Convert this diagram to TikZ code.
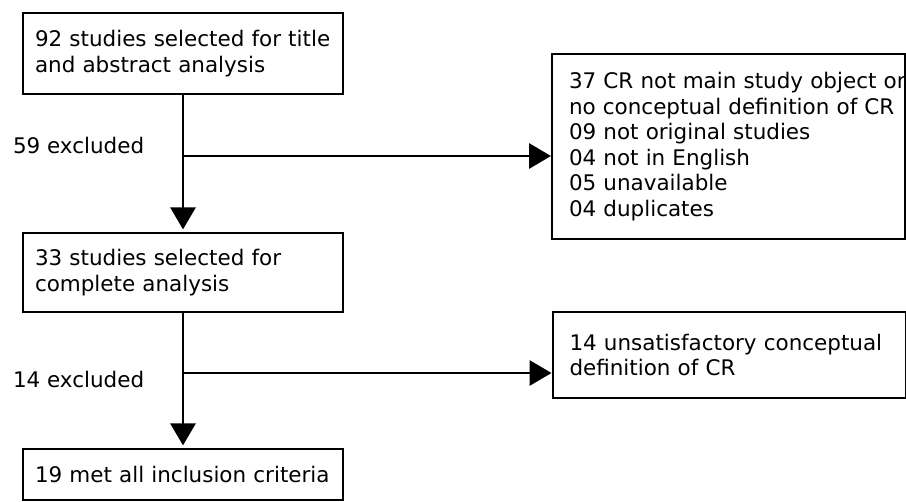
\documentclass[tikz,border=0pt]{standalone}
\usepackage{fontspec}
\setmainfont{DejaVu Sans}
\usetikzlibrary{arrows.meta}

\begin{document}
\begin{tikzpicture}[x=0.75pt, y=-0.75pt, line width=1.5pt,
    box/.style={draw, rectangle, align=left, inner ysep=0pt,
        font=\fontsize{16.1pt}{19.2pt}\selectfont},
    stagebox/.style={box, text width=222pt, inner xsep=9pt, minimum width=240pt},
    exbox/.style={box, text width=239.25pt, inner xsep=12.75pt},
    flow/.style={-{Triangle[length=16.5pt, width=19pt]}}]
    \useasboundingbox (0,0) rectangle (906,501);

    % Nodes
    \node[stagebox, minimum height=60.75pt] (title) at (183,53.5)
        {\mbox{92 studies selected for title}\\and abstract analysis};
    \node[stagebox, minimum height=59.25pt] (full) at (183,272.5)
        {33 studies selected for\\complete analysis};
    \node[stagebox, minimum height=38.25pt] (incl) at (183,474.5)
        {19 met all inclusion criteria};
    \node[exbox, minimum width=264.75pt, minimum height=138.75pt] (exA) at (728.5,146.5)
        {\mbox{37 CR not main study object or}\\\mbox{no conceptual definition of CR}\\09 not original studies\\04 not in English\\05 unavailable\\04 duplicates};
    \node[exbox, minimum width=264pt, minimum height=64.5pt] (exB) at (729,355)
        {14 unsatisfactory conceptual\\definition of CR};
    \node[anchor=base west, inner sep=0pt, font=\fontsize{16.1pt}{19.2pt}\selectfont] (nA) at (12,153) {59 excluded};
    \node[anchor=base west, inner sep=0pt, font=\fontsize{16.1pt}{19.2pt}\selectfont] (nB) at (12,387) {14 excluded};
    \coordinate (splitA) at (183,156);
    \coordinate (splitB) at (183,373);

    % Arrows
    \draw[flow, shorten >=2pt] (title) -- (full);
    \draw[flow, shorten >=2pt] (full) -- (incl);
    \draw[flow] (splitA) -- (splitA -| exA.west);
    \draw[flow] (splitB) -- (splitB -| exB.west);
\end{tikzpicture}
\end{document}
